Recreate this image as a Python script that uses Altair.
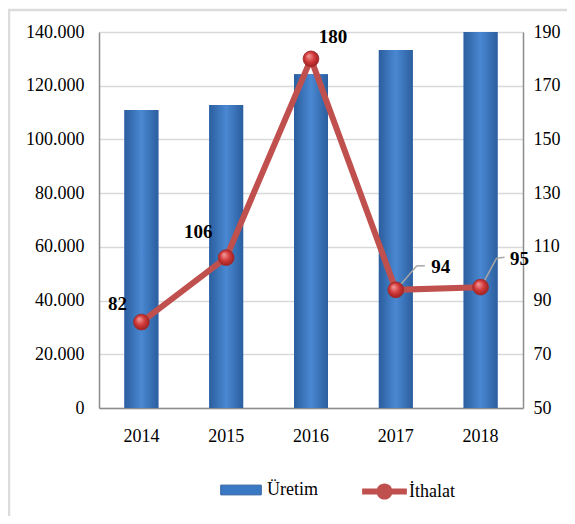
import altair as alt
import pandas as pd

years = ["2014", "2015", "2016", "2017", "2018"]
uretim = [111000, 112800, 124300, 133300, 140000]
ithalat = [82, 106, 180, 94, 95]

df = pd.DataFrame({"year": years, "uretim": uretim, "ithalat": ithalat,
                   "s1": "Üretim", "s2": "İthalat"})

FONT = "Liberation Serif"
RED = "#c0504d"
W, H = 424, 376
FS = 18

# label offsets (style)
label_off = {"2014": (-24, -18), "2015": (-28, -26), "2016": (22, -22),
             "2017": (45, -23), "2018": (39, -28)}

base = alt.Chart(df)
xenc = alt.X("year:N", title=None, sort=years,
             scale=alt.Scale(paddingInner=0.6, paddingOuter=0.3),
             axis=alt.Axis(labelAngle=0, labelFont=FONT, labelFontSize=FS,
                           labelColor="#000", domainColor="#8c8c8c", domainWidth=1.5,
                           ticks=False, labelPadding=19))

yleft = alt.Y("uretim:Q", title=None,
              scale=alt.Scale(domain=[0, 140000], nice=False),
              axis=alt.Axis(values=list(range(0, 140001, 20000)), labelFont=FONT,
                            labelFontSize=FS, labelColor="#000", ticks=False,
                            labelPadding=15, domainColor="#8c8c8c", domainWidth=1.5,
                            grid=True, gridColor="#d9d9d9", gridWidth=1.5,
                            labelExpr="replace(format(datum.value, ','), ',', '.')"))

bars_legend = base.mark_bar().encode(
    x=xenc, y=yleft,
    fill=alt.Fill("s1:N", scale=alt.Scale(domain=["Üretim"], range=["#3a78c4"]),
                  legend=alt.Legend(title=None, orient="none", legendX=121, legendY=437,
                                    symbolType="M-1,-0.24L1,-0.24L1,0.24L-1,0.24Z",
                                    symbolSize=1640, symbolStrokeColor="#2a5d9f",
                                    symbolStrokeWidth=1,
                                    labelFont=FONT, labelFontSize=FS, labelColor="#000",
                                    labelOffset=5)))
bars_grad = base.mark_bar(
    color={"gradient": "linear", "x1": 0, "x2": 1, "y1": 0, "y2": 0,
           "stops": [{"offset": 0, "color": "#2b5e9e"},
                     {"offset": 0.5, "color": "#4a88d2"},
                     {"offset": 1, "color": "#2b5e9e"}]}
).encode(x=xenc, y=yleft)

bar_layer = alt.layer(bars_legend, bars_grad)

yright = alt.Y("ithalat:Q", title=None, scale=alt.Scale(domain=[50, 190], nice=False),
               axis=alt.Axis(orient="right", values=list(range(50, 191, 20)),
                             labelFont=FONT, labelFontSize=FS, labelColor="#000",
                             ticks=False, labelPadding=10, grid=False,
                             domainColor="#8c8c8c", domainWidth=1.5))

line = base.mark_line(strokeWidth=6).encode(
    x=xenc, y=yright,
    stroke=alt.Stroke("s2:N", scale=alt.Scale(domain=["İthalat"], range=[RED]),
                      legend=alt.Legend(title=None, orient="none", legendX=263, legendY=437,
                                        symbolType="M-1,-0.13L1,-0.13L1,0.13L-1,0.13Z M0.36,0 A0.36,0.36 0 1 1 -0.36,0 A0.36,0.36 0 1 1 0.36,0 Z",
                                        symbolSize=2000, symbolFillColor=RED,
                                        symbolStrokeWidth=0,
                                        labelFont=FONT, labelFontSize=FS, labelColor="#000",
                                        labelOffset=2)))
points = base.mark_point(
    filled=True, size=250, opacity=1,
    fill={"gradient": "radial", "x1": 0.35, "y1": 0.3, "r1": 0, "x2": 0.5, "y2": 0.5, "r2": 0.6,
          "stops": [{"offset": 0, "color": "#f4a0a0"},
                    {"offset": 0.5, "color": "#d23a3a"},
                    {"offset": 1, "color": "#8e1a1a"}]},
    stroke="#a02828", strokeWidth=0.8
).encode(x=xenc, y=yright)

text_layers = []
for yv, (dx, dy) in label_off.items():
    text_layers.append(
        base.transform_filter(alt.datum.year == yv).mark_text(
            font=FONT, fontSize=19, fontWeight="bold", color="#000", dx=dx, dy=dy
        ).encode(x=xenc, y=yright, text=alt.Text("ithalat:Q"))
    )

leaders = []
for yv, seg in {"2017": [(3, -3, 21, -24), (21, -24, 29, -24)],
                "2018": [(2, -3, 16, -29), (16, -29, 24, -30)]}.items():
    for (a, b, c, d) in seg:
        leaders.append(
            base.transform_filter(alt.datum.year == yv).mark_rule(
                color="#a6a6a6", strokeWidth=1.5,
                xOffset=a, yOffset=b, x2Offset=c, y2Offset=d
            ).encode(x=xenc, x2="year:N", y=yright, y2="ithalat:Q")
        )

frame = alt.Chart(pd.DataFrame({"a": [0]})).mark_rect(
    fill="transparent", stroke="#dcdcdc", strokeWidth=2.5
).encode(x=alt.value(-90), x2=alt.value(700), y=alt.value(-22), y2=alt.value(700))

line_layer = alt.layer(line, *leaders, points, *text_layers)

chart = alt.layer(frame, bar_layer, line_layer).resolve_scale(
    y="independent", fill="independent", stroke="independent"
).properties(
    width=W, height=H,
    autosize=alt.AutoSizeParams(type="none"),
    padding={"left": 91, "top": 24, "right": 44, "bottom": 108},
    background="white"
).configure_view(stroke=None).configure_legend(labelFont=FONT, labelFontSize=FS)

chart.save("out.html", embed_options={"renderer": "svg", "actions": False})
